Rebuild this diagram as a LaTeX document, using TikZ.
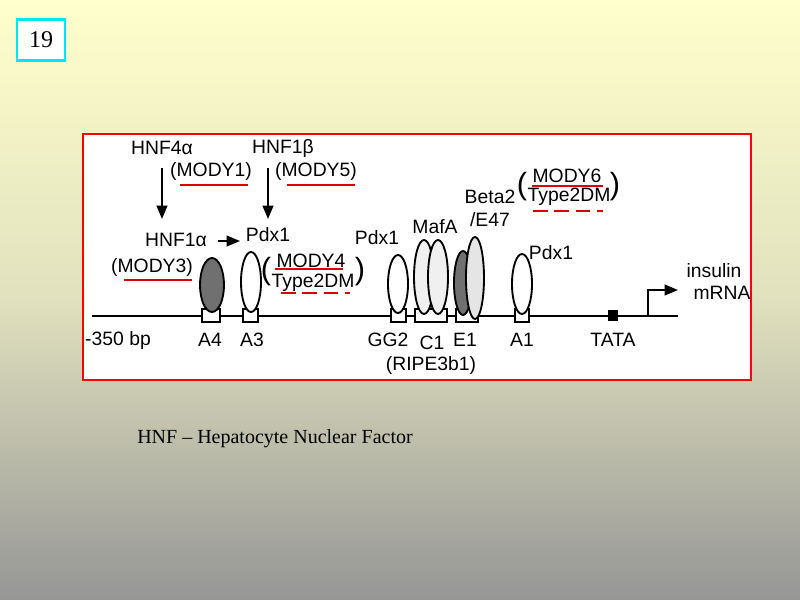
\documentclass[tikz,border=0pt]{standalone}
\usepackage{fontspec}
\setmainfont{Liberation Serif}
\newfontfamily\arial{Liberation Sans}
\usetikzlibrary{arrows.meta}
\begin{document}
\begin{tikzpicture}[x=0.75pt,y=-0.75pt,
  lab/.style={font=\arial\fontsize{14.5}{15}\selectfont,inner sep=0pt},
  par/.style={font=\arial\fontsize{23}{25}\selectfont,inner sep=0pt},
  redl/.style={draw=red!85!black,line width=1.8pt},
  site/.style={draw,fill=white,line width=1.1pt},
  blob/.style={draw,line width=1.4pt},
  arr/.style={-{Triangle[length=10pt,width=8pt]},line width=1.5pt}]
\shade[top color={rgb,255:red,255;green,255;blue,204},bottom color={rgb,255:red,150;green,150;blue,150},middle color={rgb,255:red,225;green,225;blue,190}] (0,0) rectangle (800,600);
\useasboundingbox (0,0) rectangle (800,600);
\node[draw={rgb,255:red,0;green,230;blue,240},line width=1.8pt,fill=white,minimum width=36pt,minimum height=31pt,font=\fontsize{18}{20}\selectfont] (num) at (41,40) {19};
\draw[red,line width=2.2pt,fill=white] (83,134) rectangle (751,380);
\coordinate (ls) at (92,316); \coordinate (le) at (678,316);
\draw[line width=1.6pt] (ls) -- (le);
% sites
\draw[site] (202,309) rectangle (220,322);
\draw[site] (243,309) rectangle (258,322);
\draw[site] (391,309) rectangle (406,322);
\draw[site] (415,309) rectangle (447,322);
\draw[site] (456,309) rectangle (478,322);
\draw[site] (515,309) rectangle (529,322);
\fill (608,310) rectangle (618,321);
% blobs
\draw[blob,fill=gray!60!black!80] (212,285) ellipse (12 and 27);
\draw[blob,fill=white] (251,282) ellipse (10 and 30);
\draw[blob,fill=white] (398,284) ellipse (10 and 29);
\draw[blob,fill=gray!12] (424,277) ellipse (10 and 37);
\draw[blob,fill=gray!12] (438,277) ellipse (10 and 37);
\draw[blob,fill=gray!60!black!80] (463,283) ellipse (9 and 32);
\draw[blob,fill=gray!20] (475,278) ellipse (9 and 41);
\draw[blob,fill=white] (522,284) ellipse (10 and 30);
% TSS arrow
\coordinate (t0) at (648,316); \coordinate (t1) at (648,290); \coordinate (t2) at (678,290);
\draw[arr] (t0) -- (t1) -- (t2);
\node[lab] (ins) at (714,271) {insulin};
\node[lab] (mrna) at (722,293) {mRNA};
% bottom labels
\node[lab] (bp) at (118,340) {-350 bp};
\node[lab] (a4) at (210,340) {A4};
\node[lab] (a3) at (252,340) {A3};
\node[lab] (gg2) at (388,340) {GG2};
\node[lab] (c1) at (432,343) {C1};
\node[lab] (e1) at (465,340) {E1};
\node[lab] (a1) at (522,340) {A1};
\node[lab] (tata) at (613,340) {TATA};
\node[lab] (ripe) at (431,365) {(RIPE3b1)};
% top factors
\node[lab] (h4) at (162,148) {HNF4α};
\node[lab] (h1b) at (283,148) {HNF1β};
\node[lab] (m1) at (211,171) {(MODY1)};
\node[lab] (m5) at (316,171) {(MODY5)};
\draw[redl] (180,185) -- (248,185);
\draw[redl] (287,185) -- (355,185);
\coordinate (d1) at (162,168); \coordinate (d1e) at (162,219);
\coordinate (d2) at (268,168); \coordinate (d2e) at (268,219);
\draw[arr] (d1) -- (d1e);
\draw[arr] (d2) -- (d2e);
\node[lab] (h1a) at (176,240) {HNF1α};
\node[lab] (p1) at (268,235) {Pdx1};
\coordinate (q0) at (218,241); \coordinate (q1) at (240,241);
\draw[arr] (q0) -- (q1);
\node[lab] (m3) at (152,267) {(MODY3)};
\draw[redl] (124,280) -- (192,280);
\node[par] (pa1) at (266,272) {(};
\node[par] (pa2) at (360,272) {)};
\node[lab] (m4) at (311,261) {MODY4};
\node[lab] (t2dm) at (313,283) {Type2DM};
\draw[redl] (275,269) -- (343,269);
\draw[redl,dash pattern=on 11pt off 5pt] (281,293) -- (350,293);
\node[lab] (p2) at (377,238) {Pdx1};
\node[lab] (maf) at (435,227) {MafA};
\node[lab] (b2) at (490,197) {Beta2};
\node[lab] (e47) at (490,220) {/E47};
\node[par] (pb1) at (522,187) {(};
\node[par] (pb2) at (615,187) {)};
\node[lab] (m6) at (567,176) {MODY6};
\node[lab] (t2dm2) at (569,197) {Type2DM};
\draw[redl] (532,186) -- (603,186);
\draw[redl,dash pattern=on 11pt off 5pt] (533,211) -- (603,211);
\node[lab] (p3) at (551,253) {Pdx1};
\node[anchor=west,inner sep=0pt,font=\fontsize{15}{17}\selectfont] (foot) at (137,439) {HNF -- Hepatocyte Nuclear Factor};
\end{tikzpicture}
\end{document}
